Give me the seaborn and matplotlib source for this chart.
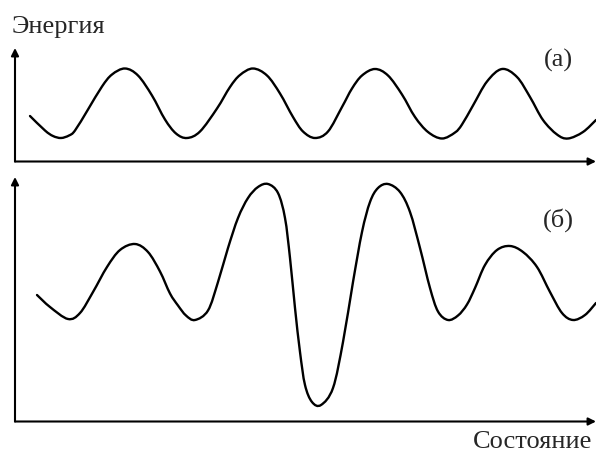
import matplotlib
matplotlib.use("Agg")
import matplotlib.pyplot as plt
from matplotlib.path import Path
from matplotlib.patches import PathPatch
import numpy as np
import pandas as pd
import seaborn as sns

# (а) periodic energy landscape: state position vs. energy above the baseline
state_a = [30, 45, 53, 61, 69, 75, 88, 102, 112, 125, 138, 152, 165, 176, 187,
           200, 217, 230, 240, 253, 267, 280, 293, 303, 315, 328, 342, 352, 362,
           375, 388, 402, 415, 428, 442, 455, 462, 473, 487, 502, 517, 530, 543,
           557, 568, 583, 596]
energy_a = [45.5, 31.0, 25.5, 23.5, 26.0, 31.0, 52.0, 75.0, 87.0, 93.0, 86.0,
            66.0, 42.0, 28.0, 23.5, 30.0, 53.0, 74.5, 86.5, 93.0, 86.0, 68.0,
            44.5, 30.0, 23.5, 30.0, 54.5, 73.0, 86.0, 92.5, 86.0, 67.0, 44.5,
            29.5, 23.0, 29.0, 37.0, 56.0, 80.0, 92.5, 84.5, 64.5, 41.5, 27.0,
            23.0, 29.5, 41.5]

# (б) landscape with a deep well in the middle
state_b = [37, 50, 68, 80, 93, 107, 120, 135, 148, 160, 170, 178, 186, 195, 208,
           218, 228, 238, 248, 258, 268, 278, 285, 290, 295, 300, 305, 312, 321,
           333, 343, 353, 362, 370, 378, 388, 400, 410, 420, 430, 438, 448, 458,
           467, 475, 485, 497, 510, 523, 537, 550, 562, 573, 585, 596]
energy_b = [126.5, 114.5, 102.5, 108.5, 129.5, 154.5, 171.5, 177.5, 169.5, 150.0,
            128.0, 116.0, 106.0, 101.5, 111.0, 139.5, 173.5, 203.5, 223.5, 234.5,
            237.5, 228.5, 203.5, 163.5, 113.5, 69.5, 36.5, 19.5, 16.5, 33.5, 79.5,
            139.5, 189.5, 219.5, 233.5, 237.5, 229.5, 209.5, 173.5, 133.5, 110.0,
            101.5, 106.0, 117.0, 133.5, 156.5, 171.5, 175.5, 169.5, 154.5, 129.5,
            108.5, 101.5, 106.5, 118.5]

panel_labels = ["(а)", "(б)"]
y_label = "Энергия"
x_label = "Состояние"

sns.set_style("white")
plt.rcParams["font.family"] = ["Liberation Serif", "DejaVu Serif"]

W, H = 596, 450
fig = plt.figure(figsize=(W / 100, H / 100), dpi=100)

ax_a = fig.add_axes([15 / W, (H - 161.5) / H, (W - 15) / W, (161.5 - 48) / H])
ax_b = fig.add_axes([15 / W, (H - 421.5) / H, (W - 15) / W, (421.5 - 177) / H])

df_a = pd.DataFrame({"state": state_a, "energy": energy_a})
df_b = pd.DataFrame({"state": state_b, "energy": energy_b})


def smooth_line(ax, line, lw):
    """Redraw a seaborn line as a smooth Bezier curve through its own vertices."""
    pts = np.asarray(line.get_xydata(), dtype=float)
    verts = [pts[0]]
    codes = [Path.MOVETO]
    n = len(pts)
    for i in range(n - 1):
        p0 = pts[i - 1] if i > 0 else pts[i]
        p1, p2 = pts[i], pts[i + 1]
        p3 = pts[i + 2] if i + 2 < n else pts[i + 1]
        c1 = p1 + (p2 - p0) / 6.0
        c2 = p2 - (p3 - p1) / 6.0
        verts += [c1, c2, p2]
        codes += [Path.CURVE4] * 3
    line.set_visible(False)
    ax.add_patch(PathPatch(Path(verts, codes), fill=False, edgecolor="black",
                           linewidth=lw, capstyle="round", joinstyle="round"))


for ax, df, ylim in ((ax_a, df_a, 161.5 - 48), (ax_b, df_b, 421.5 - 177)):
    sns.lineplot(data=df, x="state", y="energy", ax=ax, color="black",
                 linewidth=1.7, sort=False, legend=False)
    smooth_line(ax, ax.lines[-1], 1.7)
    ax.set_xlim(15, 596)
    ax.set_ylim(0, ylim)
    ax.set_axis_off()
    arrow = dict(arrowstyle="-|>", color="black", lw=1.5,
                 mutation_scale=11, shrinkA=0, shrinkB=0)
    ax.annotate("", xy=(0, 1), xytext=(0, 0), xycoords="axes fraction",
                arrowprops=arrow, annotation_clip=False)
    ax.annotate("", xy=(1, 0), xytext=(0, 0), xycoords="axes fraction",
                arrowprops=arrow, annotation_clip=False)

fs = 19
fig.text(12 / W, 1 - 33 / H, y_label, fontsize=fs, ha="left", va="baseline")
fig.text(473 / W, 1 - 448 / H, x_label, fontsize=fs, ha="left", va="baseline")
fig.text(558 / W, 1 - 60 / H, panel_labels[0], fontsize=fs, ha="center", va="center")
fig.text(558.5 / W, 1 - 220 / H, panel_labels[1], fontsize=fs, ha="center", va="center")

fig.savefig("out.png", dpi=100)
